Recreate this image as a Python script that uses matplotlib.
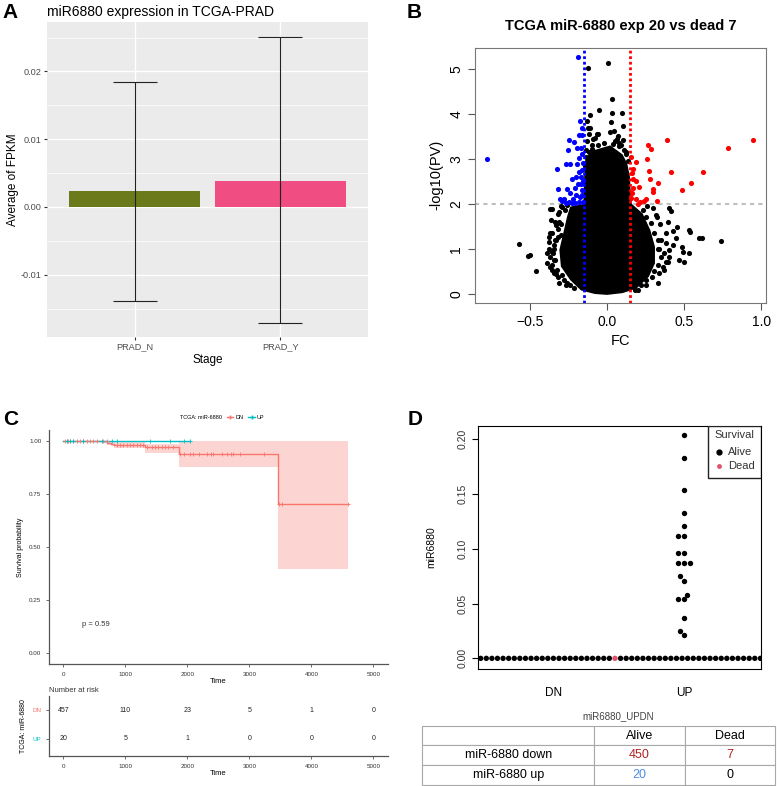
import matplotlib
matplotlib.use('Agg')
import matplotlib.pyplot as plt
import numpy as np
from matplotlib.lines import Line2D
from matplotlib.patches import Rectangle

plt.rcParams['font.family'] = ['Liberation Sans', 'DejaVu Sans']

# ---------------- data ----------------
# A: bar chart
stages = ['PRAD_N', 'PRAD_Y']
fpkm_mean = [0.0024, 0.0039]
fpkm_low = [-0.0139, -0.0172]
fpkm_high = [0.0185, 0.0251]
bar_colors = ['#6B7A1A', '#F04E82']

# B: volcano (sparse points; the dense core as an outline)
blue_fc = [-0.186, -0.78, -0.248, -0.212, -0.255, -0.196, -0.175, -0.16, -0.18, -0.165,
           -0.17, -0.16, -0.325, -0.27, -0.24, -0.195, -0.18, -0.32, -0.262, -0.305,
           -0.243, -0.28, -0.25, -0.22, -0.2, -0.21, -0.19, -0.17, -0.16, -0.165,
           -0.175, -0.185, -0.155, -0.16, -0.17, -0.225, -0.2, -0.18, -0.155, -0.155,
           -0.23, -0.27, -0.29, -0.21]
blue_pv = [5.27, 3.0, 3.43, 3.37, 3.19, 3.24, 3.84, 3.68, 3.53, 3.53,
           3.25, 3.10, 2.78, 2.88, 2.88, 2.88, 3.02, 2.33, 2.33, 2.12,
           2.25, 2.12, 2.05, 2.1, 2.2, 2.35, 2.45, 2.6, 2.75, 2.3,
           2.15, 2.05, 2.05, 2.2, 2.45, 2.55, 2.6, 2.7, 2.5, 2.9,
           2.02, 2.02, 2.06, 2.02]
red_fc = [0.948, 0.783, 0.39, 0.268, 0.285, 0.152, 0.19, 0.261, 0.169, 0.16,
          0.27, 0.417, 0.619, 0.19, 0.276, 0.332, 0.208, 0.295, 0.30, 0.544,
          0.484, 0.19, 0.21, 0.24, 0.25, 0.323, 0.155, 0.165, 0.17, 0.16, 0.2]
red_pv = [3.43, 3.24, 3.42, 3.30, 3.23, 3.04, 2.93, 3.0, 2.77, 2.68,
          2.74, 2.70, 2.72, 2.50, 2.56, 2.47, 2.37, 2.33, 2.27, 2.47,
          2.30, 2.10, 2.05, 2.06, 2.11, 2.07, 2.13, 2.55, 2.35, 2.25, 2.0]
black_fc = [0.005, -0.122, 0.03, -0.05, -0.112, 0.03, 0.094, 0.103, 0.017, 0.047,
            -0.132, -0.122, -0.112, -0.062, -0.077, -0.068, -0.12, 0.064, 0.024, 0.09,
            0.11, 0.125, 0.08, -0.1, -0.13, -0.09, -0.14, 0.05, 0.1, 0.07,
            -0.571, -0.514, -0.5, -0.464, -0.393, -0.368, -0.357, -0.361, -0.368, -0.355,
            -0.38, -0.375, -0.357, -0.35, -0.37, -0.36, -0.315, -0.32, -0.30, -0.32,
            -0.33, -0.34, -0.33, -0.32, -0.30, -0.345, -0.31, -0.27, -0.34, -0.3,
            0.738, 0.595, 0.616, 0.531, 0.535, 0.456, 0.398, 0.413, 0.392, 0.317,
            0.325, 0.381, 0.424, 0.445, 0.488, 0.494, 0.531, 0.499, 0.467, 0.40,
            0.396, 0.338, 0.291, 0.242, 0.327, 0.38, 0.37, 0.35, 0.34, 0.36,
            0.3, 0.26, 0.33, 0.25, 0.2, 0.43,
            -0.389, -0.368, -0.347, -0.357, -0.325, -0.347, -0.293, -0.282, -0.261, -0.239,
            -0.218, -0.379, -0.347, -0.336, -0.321, -0.329, -0.315, -0.272, -0.293, -0.261,
            0.231, 0.253, 0.285, 0.306, 0.327, 0.338, 0.349, 0.327, 0.306, 0.253,
            0.221, 0.178, 0.381, 0.402, 0.37,
            -0.14, -0.12, -0.1, -0.06, -0.02, 0.04, 0.08, 0.12, 0.135, -0.145]
black_pv = [5.12, 5.02, 4.34, 4.09, 3.98, 4.02, 4.02, 3.74, 3.59, 3.61,
            3.84, 3.68, 3.68, 3.55, 3.46, 3.55, 3.55, 3.44, 3.81, 3.3,
            3.2, 3.16, 3.35, 3.3, 3.4, 3.45, 3.2, 3.4, 3.42, 3.5,
            1.10, 0.85, 0.87, 0.51, 0.68, 1.89, 1.89, 1.64, 1.35, 1.35,
            1.27, 1.16, 0.94, 0.90, 0.59, 0.53, 1.83, 1.78, 1.55, 1.44,
            1.2, 0.75, 0.45, 0.38, 1.95, 1.0, 0.25, 0.2, 1.6, 1.3,
            1.18, 1.25, 1.24, 1.42, 1.37, 1.48, 1.90, 1.85, 1.61, 1.76,
            1.72, 1.35, 1.09, 1.24, 1.05, 0.93, 0.92, 0.70, 0.76, 0.83,
            0.72, 0.46, 0.37, 0.37, 0.24, 0.72, 0.90, 1.2, 1.55, 0.6,
            1.9, 1.95, 1.0, 0.2, 0.08, 1.4,
            0.90, 0.83, 0.76, 0.64, 0.53, 0.46, 0.42, 0.31, 0.24, 0.20,
            0.13, 1.01, 1.09, 1.2, 1.27, 1.53, 1.61, 1.87, 1.94, 1.98,
            1.87, 1.72, 1.57, 1.35, 1.2, 1.01, 0.83, 0.64, 0.50, 0.31,
            0.20, 0.09, 1.13, 0.98, 0.53,
            3.05, 3.15, 3.22, 3.3, 3.36, 3.33, 3.28, 3.1, 2.95, 2.85]
cloud_fc = [0.0, 0.1, 0.19, 0.27, 0.31, 0.31, 0.28, 0.23, 0.16, 0.152, 0.148, 0.13,
            0.1, 0.06, 0.02, -0.03, -0.08, -0.12, -0.145, -0.15, -0.155, -0.24, -0.26,
            -0.28, -0.31, -0.30, -0.24, -0.17, -0.08]
cloud_pv = [-0.02, 0.02, 0.12, 0.38, 0.68, 1.05, 1.42, 1.79, 2.0, 2.3, 2.6, 2.9,
            3.1, 3.2, 3.3, 3.25, 3.2, 3.1, 2.95, 2.5, 2.0, 1.94, 1.72,
            1.42, 0.98, 0.61, 0.31, 0.08, 0.0]

# C: Kaplan-Meier
dn_time = [0, 620, 700, 770, 810, 1320, 1860, 3460, 4590]
dn_surv = [1.0, 0.996, 0.991, 0.986, 0.980, 0.968, 0.938, 0.704, 0.704]
dn_low = [1.0, 0.988, 0.981, 0.974, 0.965, 0.94, 0.876, 0.398, 0.398]
dn_up = [1.0, 1.0, 1.0, 0.998, 0.995, 0.985, 1.0, 1.0, 1.0]
dn_cens = [27, 54, 81, 108, 161, 216, 269, 323, 377, 431, 484, 538, 645, 699,
           861, 915, 968, 1022, 1075, 1129, 1183, 1237, 1290,
           1345, 1426, 1479, 1532, 1587, 1640, 1694, 1774,
           1882, 1952, 2044, 2097, 2194, 2323, 2377, 2420, 2555, 2636, 2700, 2743,
           2851, 3242, 3484, 3522, 4590]
up_time = [0, 2044]
up_surv = [1.0, 1.0]
up_cens = [54, 108, 161, 323, 619, 780, 861, 1398, 1721, 1947, 2044]
risk_times = [0, 1000, 2000, 3000, 4000, 5000]
risk_dn = [457, 110, 23, 5, 1, 0]
risk_up = [20, 5, 1, 0, 0, 0]

# D: strip chart
up_vals = [0.021, 0.025, 0.037, 0.054, 0.054, 0.058, 0.071, 0.075, 0.087, 0.087,
           0.087, 0.096, 0.096, 0.112, 0.112, 0.121, 0.133, 0.154, 0.183, 0.204]
dn_vals = [0.0] * 457
dn_dead_idx = [22, 80, 90, 100, 110, 120, 130]
tab_rows = ['miR-6880 down', 'miR-6880 up']
tab_cols = ['Alive', 'Dead']
tab_vals = [[450, 7], [20, 0]]

# ---------------- figure ----------------
W, H = 777, 786
fig = plt.figure(figsize=(W / 100, H / 100), dpi=100)


def box(l, t, r, b):
    return [l / W, 1 - b / H, (r - l) / W, (b - t) / H]


# panel letters
for lab, x, y in [('A', 2, 18), ('B', 407, 18), ('C', 3, 425), ('D', 408, 425)]:
    fig.text(x / W, 1 - y / H, lab, fontsize=15, fontweight='bold', va='baseline')

# ---- A ----
axA = fig.add_axes(box(47, 22, 368, 337))
axA.set_facecolor('#EBEBEB')
xs = np.arange(1, len(stages) + 1)
axA.bar(xs, fpkm_mean, width=0.9, color=bar_colors, zorder=2)
yerr = [np.array(fpkm_mean) - np.array(fpkm_low), np.array(fpkm_high) - np.array(fpkm_mean)]
axA.errorbar(xs, fpkm_mean, yerr=yerr, fmt='none', ecolor='#222222', elinewidth=0.8,
             capsize=15.5, capthick=0.8, zorder=3)
axA.set_xlim(0.4, 2.6)
axA.set_ylim(-0.0192, 0.0273)
axA.set_yticks([-0.01, 0.0, 0.01, 0.02])
axA.set_yticklabels(['-0.01', '0.00', '0.01', '0.02'])
axA.set_yticks([-0.015, -0.005, 0.005, 0.015, 0.025], minor=True)
axA.set_xticks(xs)
axA.set_xticklabels(stages)
axA.grid(True, which='major', color='white', lw=1.0, zorder=0)
axA.grid(True, which='minor', axis='y', color='white', lw=0.5, zorder=0)
axA.set_axisbelow(True)
for s in axA.spines.values():
    s.set_visible(False)
axA.tick_params(axis='both', which='major', labelsize=6.6, labelcolor='#4D4D4D',
                color='#333333', length=2.5, pad=1.5)
axA.tick_params(axis='y', which='minor', length=0)
axA.set_xlabel('Stage', fontsize=8.5, labelpad=2)
axA.set_ylabel('Average of FPKM', fontsize=8.5, labelpad=1)
axA.set_title('miR6880 expression in TCGA-PRAD', loc='left', fontsize=10, pad=4)

# ---- B ----
axB = fig.add_axes(box(475, 47.7, 766, 303))
axB.fill(cloud_fc, cloud_pv, color='black', lw=0, zorder=2)
axB.axhline(2, color='#BEBEBE', lw=1.5, ls=(0, (2, 2)), zorder=1)
axB.plot(black_fc, black_pv, 'o', color='black', ms=3.7, mew=0, zorder=3)
axB.plot(blue_fc, blue_pv, 'o', color='#0000FF', ms=3.7, mew=0, zorder=3)
axB.plot(red_fc, red_pv, 'o', color='#FF0000', ms=3.7, mew=0, zorder=3)
axB.axvline(-0.15, color='#0000FF', lw=2, ls=(0, (1, 1)), zorder=4)
axB.axvline(0.15, color='#FF0000', lw=2, ls=(0, (1, 1)), zorder=4)
axB.set_xlim(-0.857, 1.03)
axB.set_ylim(-0.2, 5.47)
axB.set_xticks([-0.5, 0.0, 0.5, 1.0])
axB.set_yticks([0, 1, 2, 3, 4, 5])
axB.tick_params(labelsize=10, length=5, color='#555555')
for t in axB.get_yticklabels():
    t.set_rotation(90)
    t.set_va('center')
for s in axB.spines.values():
    s.set_color('#777777')
axB.set_xlabel('FC', fontsize=10.5)
axB.set_ylabel('-log10(PV)', fontsize=10.5)
axB.set_title('TCGA miR-6880 exp 20 vs dead 7', fontsize=10.5, fontweight='bold', pad=13)

# ---- C ----
red_km = '#F8766D'
teal_km = '#00BFC4'
axC = fig.add_axes(box(49, 430, 388, 664))
axC.fill_between(dn_time, dn_low, dn_up, step='post', color=red_km, alpha=0.3, lw=0)
axC.step(dn_time, dn_surv, where='post', color=red_km, lw=1)
axC.step(up_time, up_surv, where='post', color=teal_km, lw=1)
dn_cy = np.array(dn_surv)[np.searchsorted(dn_time, dn_cens, side='right') - 1]
up_cy = np.array(up_surv)[np.searchsorted(up_time, up_cens, side='right') - 1]
axC.plot(dn_cens, dn_cy, '+', color=red_km, ms=3, mew=0.6)
axC.plot(up_cens, up_cy, '+', color=teal_km, ms=3, mew=0.6)
axC.set_xlim(-230, 5235)
axC.set_ylim(-0.05, 1.05)
axC.set_xticks(risk_times)
axC.set_yticks([0, 0.25, 0.5, 0.75, 1.0])
axC.set_yticklabels(['0.00', '0.25', '0.50', '0.75', '1.00'])
axC.tick_params(labelsize=4.5, length=2, color='#555555', labelcolor='#333333', width=0.6)
for k in ['top', 'right']:
    axC.spines[k].set_visible(False)
for k in ['left', 'bottom']:
    axC.spines[k].set_color('#555555')
    axC.spines[k].set_linewidth(0.9)
axC.set_xlabel('Time', fontsize=5.5, labelpad=1)
axC.set_ylabel('Survival probability', fontsize=5, labelpad=4)
axC.text(300, 0.13, 'p = 0.59', fontsize=5.5, color='#333333')
handles = [Line2D([], [], lw=0, label='TCGA: miR-6880'),
           Line2D([], [], color=red_km, marker='+', lw=1, ms=3, label='DN'),
           Line2D([], [], color=teal_km, marker='+', lw=1, ms=3, label='UP')]
fig.legend(handles=handles, loc='center', bbox_to_anchor=(218 / W, 1 - 417 / H), ncol=3,
           frameon=False, fontsize=4, handlelength=1.2, handletextpad=0.4, columnspacing=0.8)

axR = fig.add_axes(box(49, 696, 388, 756))
for i, t in enumerate(risk_times):
    axR.text(t, 1, str(risk_dn[i]), ha='center', va='center', fontsize=5, color='#222222')
    axR.text(t, 0, str(risk_up[i]), ha='center', va='center', fontsize=5, color='#222222')
axR.set_xlim(-230, 5235)
axR.set_ylim(-0.6, 1.5)
axR.set_xticks(risk_times)
axR.set_yticks([0, 1])
axR.set_yticklabels(['UP', 'DN'])
axR.tick_params(labelsize=4.5, length=2, color='#555555', labelcolor='#333333', width=0.6)
axR.get_yticklabels()[0].set_color(teal_km)
axR.get_yticklabels()[1].set_color(red_km)
for k in ['top', 'right']:
    axR.spines[k].set_visible(False)
for k in ['left', 'bottom']:
    axR.spines[k].set_color('#555555')
    axR.spines[k].set_linewidth(0.9)
axR.set_xlabel('Time', fontsize=5.5, labelpad=1)
axR.set_ylabel('TCGA: miR-6880', fontsize=5, labelpad=4)
fig.text(49 / W, 1 - 692 / H, 'Number at risk', fontsize=5.5, color='#333333')

# ---- D ----
axD = fig.add_axes(box(477.7, 425.7, 761, 669.3))
sx, sy, dpx = 130.7, 1095.0, 5.6


def swarm(vals, xc):
    px = np.empty(0)
    py = np.empty(0)
    out = []
    for v in vals:
        y = v * sy
        near = np.abs(py - y) < dpx
        dx = np.sqrt(np.maximum(dpx ** 2 - (py[near] - y) ** 2, 0))
        cands = np.concatenate([[0.0], px[near] + dx, px[near] - dx])
        cands = cands[np.lexsort((cands, np.abs(cands)))]
        if near.any():
            d2 = (cands[:, None] - px[near][None, :]) ** 2 + (py[near][None, :] - y) ** 2
            ok = np.all(d2 >= dpx ** 2 - 1e-6, axis=1)
            c = cands[np.argmax(ok)]
        else:
            c = 0.0
        px = np.append(px, c)
        py = np.append(py, y)
        out.append(xc + c / sx)
    return np.array(out)


dn_x = swarm(dn_vals, 1)
up_x = swarm(up_vals, 2)
dn_col = np.array(['black'] * len(dn_vals), dtype=object)
dn_col[dn_dead_idx] = '#DF536B'
axD.scatter(dn_x, dn_vals, s=15, c=list(dn_col), lw=0, zorder=3)
axD.scatter(up_x, up_vals, s=15, c='black', lw=0, zorder=3)
axD.set_xlim(0.42, 2.59)
axD.set_ylim(-0.01, 0.2124)
axD.set_xticks([1, 2])
axD.set_xticklabels(['DN', 'UP'])
axD.tick_params(axis='x', length=0, pad=13, labelsize=8.5)
axD.set_yticks([0, 0.05, 0.1, 0.15, 0.2])
axD.set_yticklabels(['0.00', '0.05', '0.10', '0.15', '0.20'])
axD.tick_params(axis='y', labelsize=7.5, length=4, labelcolor='#333333')
for t in axD.get_yticklabels():
    t.set_rotation(90)
    t.set_va('center')
axD.set_ylabel('miR6880', fontsize=7.5, labelpad=15)
# legend box
axD.add_patch(Rectangle((0.814, 0.787), 0.186, 0.213, transform=axD.transAxes,
                        fill=True, facecolor='white', edgecolor='#222222', lw=1, zorder=5))
axD.text(0.905, 0.962, 'Survival', transform=axD.transAxes, ha='center', va='center',
         fontsize=8, color='#333333', zorder=6)
axD.plot([0.852], [0.891], 'o', ms=3.5, color='black', transform=axD.transAxes, zorder=6)
axD.plot([0.852], [0.835], 'o', ms=3.5, color='#DF536B', mew=0, transform=axD.transAxes, zorder=6)
axD.text(0.885, 0.891, 'Alive', transform=axD.transAxes, va='center', fontsize=8,
         color='#333333', zorder=6)
axD.text(0.885, 0.835, 'Dead', transform=axD.transAxes, va='center', fontsize=8,
         color='#333333', zorder=6)

# table under D
fig.text(618 / W, 1 - 716 / H, 'miR6880_UPDN', fontsize=7, color='#444444',
         ha='center', va='center')
axT = fig.add_axes(box(422.3, 725.7, 775, 785))
axT.axis('off')
cell_text = [[''] + tab_cols] + [[tab_rows[i]] + [str(v) for v in tab_vals[i]] for i in range(2)]
tbl = axT.table(cellText=cell_text, colWidths=[0.488, 0.256, 0.256], cellLoc='center',
                bbox=[0, 0, 1, 1])
tbl.auto_set_font_size(False)
tbl.set_fontsize(9)
val_colors = [['#B22222', '#B22222'], ['#4A90E2', 'black']]
for (r, c), cell in tbl.get_celld().items():
    cell.set_edgecolor('#A8A8A8')
    cell.set_linewidth(0.8)
    if r >= 1 and c >= 1:
        cell.get_text().set_color(val_colors[r - 1][c - 1])

fig.savefig('out.png', dpi=100)
